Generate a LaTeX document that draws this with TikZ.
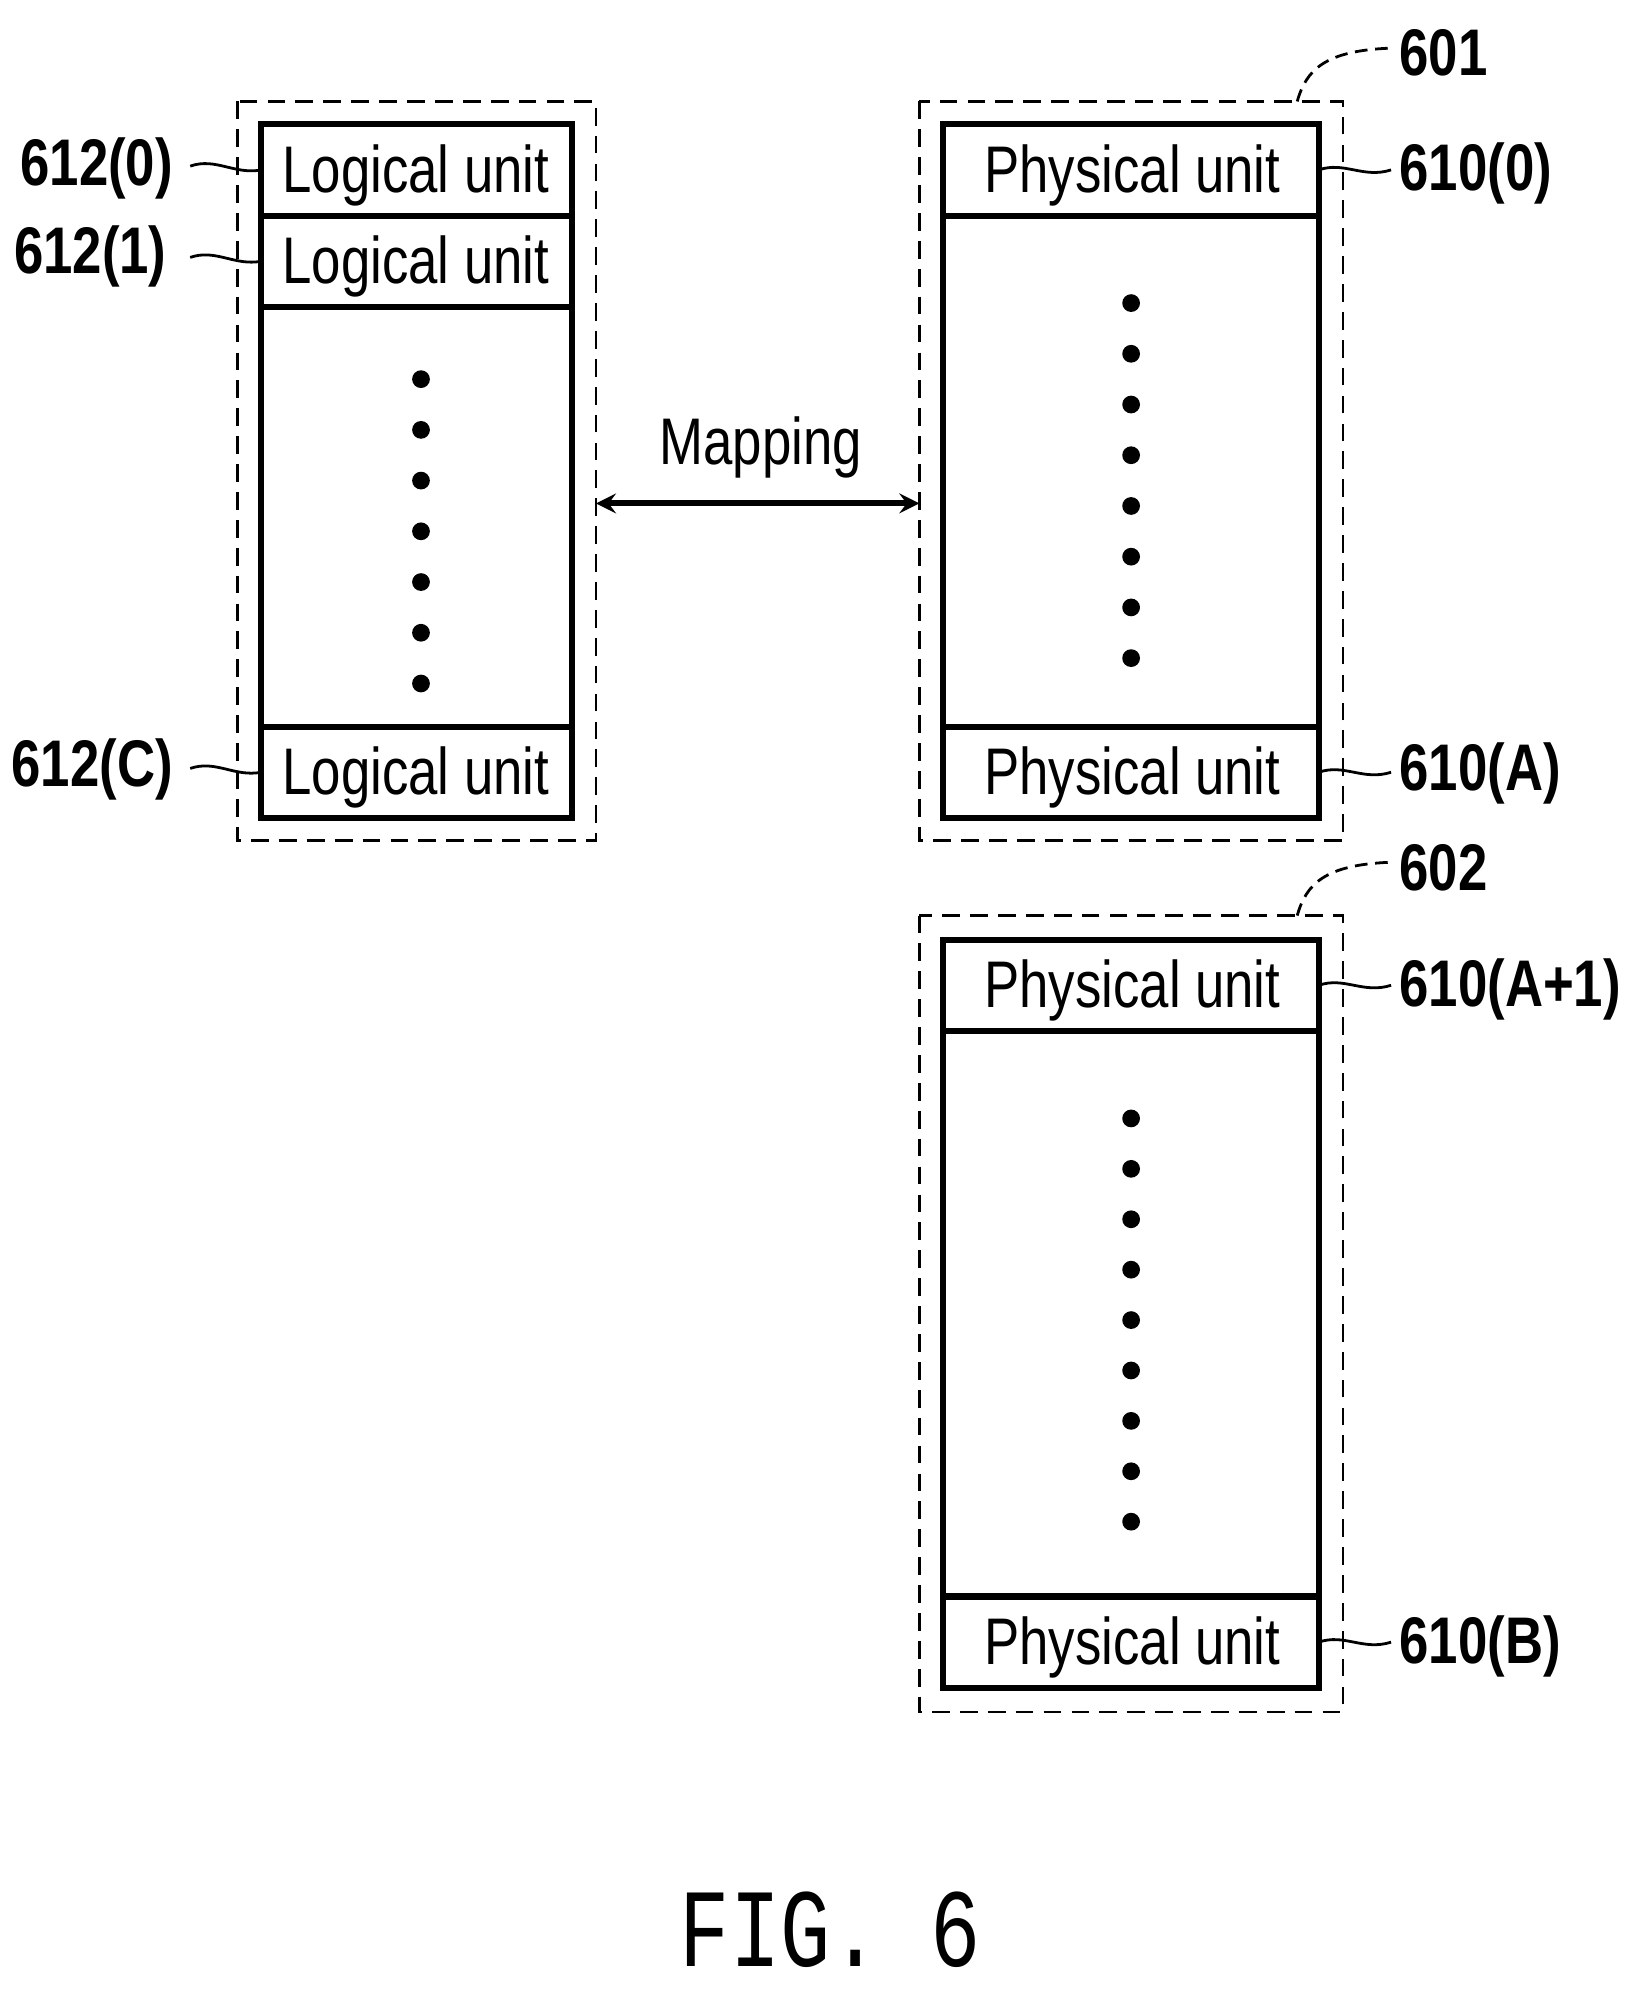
\documentclass[tikz,border=0pt]{standalone}
\usepackage{fontspec}
\setmainfont{Liberation Sans}
\setmonofont{Liberation Mono}
\begin{document}
\begin{tikzpicture}[x=0.5pt,y=-0.5pt,
 dsh/.style={line width=1.1pt,dash pattern=on 7pt off 4pt},
 box/.style={line width=2.4pt},
 txt/.style={font=\fontsize{26}{28}\selectfont,xscale=0.8},
 lbl/.style={font=\bfseries\fontsize{26}{28}\selectfont,xscale=0.8},
 dot/.style={circle,fill,inner sep=0pt,minimum size=7pt},
 lead/.style={line width=1.1pt}]
\useasboundingbox (0,0) rectangle (1300,1578);
% left block
\draw[dsh] (187,80) rectangle (470,663);
\draw[box] (206,98) rectangle (451,645);
\draw[box] (206,170)--(451,170) (206,242)--(451,242) (206,573)--(451,573);
\node[txt] (l0) at (328,138) {Logical unit};
\node[txt] (l1) at (328,210) {Logical unit};
\node[txt] (lc) at (328,613) {Logical unit};
\foreach \i in {0,...,6} \node[dot] (ld\i) at (332,299+40*\i) {};
% 601
\draw[dsh] (725,80) rectangle (1059,663);
\draw[box] (744,98) rectangle (1040,645);
\draw[box] (744,170)--(1040,170) (744,573)--(1040,573);
\node[txt] (p0) at (893,138) {Physical unit};
\node[txt] (pa) at (893,613) {Physical unit};
\foreach \i in {0,...,7} \node[dot] (rd\i) at (892,239+40*\i) {};
% 602
\draw[dsh] (725,722) rectangle (1059,1350);
\draw[box] (744,741) rectangle (1040,1331);
\draw[box] (744,813)--(1040,813) (744,1259)--(1040,1259);
\node[txt] (pa1) at (893,781) {Physical unit};
\node[txt] (pb) at (893,1299) {Physical unit};
\foreach \i in {0,...,8} \node[dot] (sd\i) at (892,882+39.75*\i) {};
% mapping
\coordinate (ma) at (470,397); \coordinate (mb) at (725,397);
\draw[line width=2.4pt,<->,>=stealth] (ma)--(mb);
\node[txt] (map) at (600,353) {Mapping};
% left labels
\node[lbl,anchor=east] (n0) at (142,133) {612(0)};
\node[lbl,anchor=east] (n1) at (137,202) {612(1)};
\node[lbl,anchor=east] (nc) at (142,607) {612(C)};
\coordinate (a0) at (206,134); \coordinate (a1) at (206,206); \coordinate (ac) at (206,609);
\draw[lead] (150,131) .. controls (170,124) and (185,138) .. (a0);
\draw[lead] (150,203) .. controls (170,196) and (185,210) .. (a1);
\draw[lead] (150,606) .. controls (170,599) and (185,613) .. (ac);
% right labels
\node[lbl,anchor=west] (m0) at (1098,137) {610(0)};
\node[lbl,anchor=west] (ma0) at (1098,610) {610(A)};
\node[lbl,anchor=west] (ma1) at (1098,780) {610(A+1)};
\node[lbl,anchor=west] (mbb) at (1098,1298) {610(B)};
\coordinate (b0) at (1040,134); \coordinate (ba) at (1040,609); \coordinate (ba1) at (1040,777); \coordinate (bb) at (1040,1295);
\foreach \c/\y in {b0/134,ba/609,ba1/777,bb/1295}
 \draw[lead] (\c) .. controls (1060,\y-7) and (1075,\y+7) .. (1097,\y);
% 601 / 602
\node[lbl,anchor=west] (t601) at (1098,42) {601};
\node[lbl,anchor=west] (t602) at (1098,684) {602};
\coordinate (c601) at (1023,80); \coordinate (c602) at (1023,722);
\draw[line width=1.1pt,dash pattern=on 5pt off 3pt] (c601) .. controls (1030,55) and (1045,40) .. (1096,38);
\draw[line width=1.1pt,dash pattern=on 5pt off 3pt] (c602) .. controls (1030,697) and (1045,682) .. (1096,680);
% caption
\node[font=\ttfamily\fontsize{44}{48}\selectfont,xscale=0.75] (fig) at (655,1522) {FIG. 6};
\end{tikzpicture}
\end{document}
